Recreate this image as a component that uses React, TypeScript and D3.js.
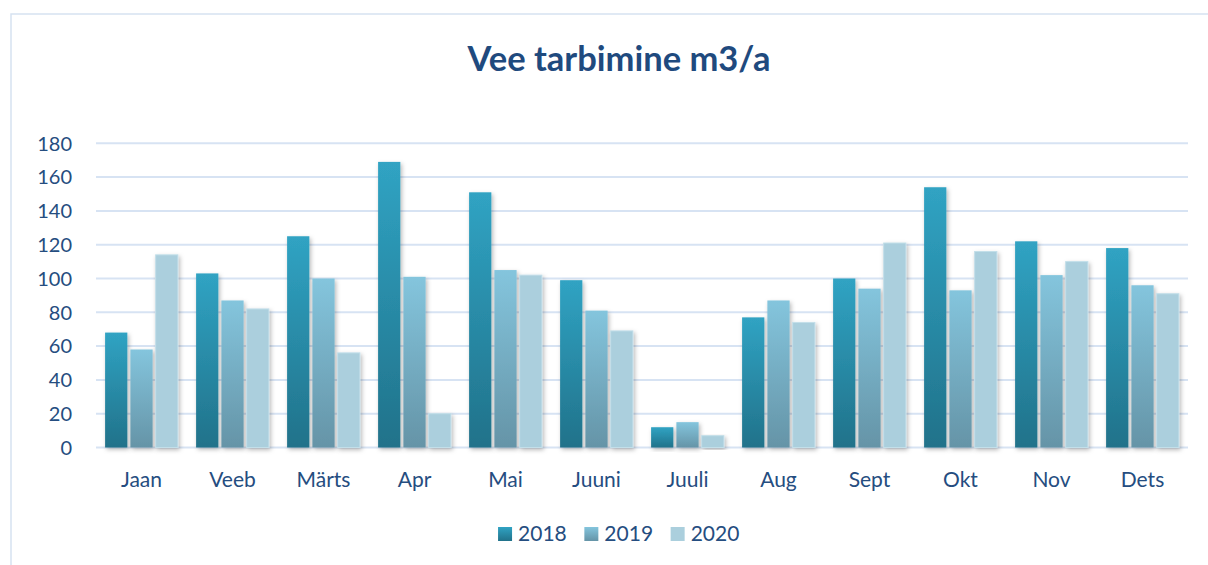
import React from 'react'
import * as d3 from 'd3'

const months = ['Jaan', 'Veeb', 'Märts', 'Apr', 'Mai', 'Juuni', 'Juuli', 'Aug', 'Sept', 'Okt', 'Nov', 'Dets']
const years = ['2018', '2019', '2020']
const values2018 = [68, 103, 125, 169, 151, 99, 12, 77, 100, 154, 122, 118]
const values2019 = [58, 87, 100, 101, 105, 81, 15, 87, 94, 93, 102, 96]
const values2020 = [114, 82, 56, 20, 102, 69, 7, 74, 121, 116, 110, 91]
const yTicks = [0, 20, 40, 60, 80, 100, 120, 140, 160, 180]

const seriesValues = [values2018, values2019, values2020]

const width = 1208
const height = 565
const left = 96
const right = 1188
const top = 143.3
const bottom = 447.5

const textColor = '#254d80'
const font = 'Lato, "Open Sans", sans-serif'

const App = () => {
  const x0 = d3.scaleBand().domain(months).range([left, right]).paddingInner(0.2).paddingOuter(0.1)
  const x1 = d3.scaleBand().domain(years).range([0, x0.bandwidth()]).paddingInner(0.12)
  const y = d3.scaleLinear().domain([0, 180]).range([bottom, top])

  const fills = ['url(#g2018)', 'url(#g2019)', '#abcfdd']

  // legend laid out from the middle
  const legendStep = 86.3
  const legendStart = 620 - (legendStep * years.length - 15) / 2

  return (
    <svg width={width} height={height} style={{ position: 'absolute', left: 0, top: 0, background: '#fff' }}>
      <defs>
        <linearGradient id="g2018" x1="0" y1="0" x2="0" y2="1">
          <stop offset="0%" stopColor="#30a3c3" />
          <stop offset="100%" stopColor="#21728a" />
        </linearGradient>
        <linearGradient id="g2019" x1="0" y1="0" x2="0" y2="1">
          <stop offset="0%" stopColor="#84c5dd" />
          <stop offset="100%" stopColor="#6594a7" />
        </linearGradient>
        <filter id="shadow" x="-30%" y="-10%" width="160%" height="130%">
          <feDropShadow dx="1.5" dy="2" stdDeviation="2" floodColor="#000" floodOpacity="0.28" />
        </filter>
      </defs>

      {/* chart area border */}
      <rect x={11} y={14} width={width + 20} height={height + 20} fill="none" stroke="#d6e2f1" strokeWidth={1.5} />

      <text x={619} y={71} textAnchor="middle" fill="#1f4a7e" fontFamily={font} fontWeight="bold" fontSize={34.5}>
        Vee tarbimine m3/a
      </text>

      {yTicks.map(t => (
        <g key={t}>
          <line x1={left} x2={right} y1={y(t)} y2={y(t)} stroke="#d7e3f3" strokeWidth={2} />
          <text x={72} y={y(t)} dy="0.36em" textAnchor="end" fill={textColor} fontFamily={font} fontSize={20}>
            {t}
          </text>
        </g>
      ))}

      {months.map((m, i) => (
        <g key={m} transform={`translate(${x0(m)},0)`}>
          {years.map((yr, j) => {
            const v = seriesValues[j][i]
            return (
              <rect key={yr}
                x={x1(yr)}
                y={y(v)}
                width={x1.bandwidth()}
                height={y(0) - y(v)}
                fill={fills[j]}
                stroke={j === 2 ? '#c3dfe9' : 'none'}
                strokeWidth={1}
                filter="url(#shadow)" />
            )
          })}
        </g>
      ))}

      {months.map(m => (
        <text key={m} x={(x0(m) || 0) + x0.bandwidth() / 2} y={486.5} textAnchor="middle"
          fill={textColor} fontFamily={font} fontSize={21}>
          {m}
        </text>
      ))}

      {years.map((yr, j) => (
        <g key={yr} transform={`translate(${legendStart + j * legendStep},0)`}>
          <rect x={0} y={527} width={14} height={14} fill={fills[j]} />
          <text x={20} y={541} fill={textColor} fontFamily={font} fontSize={21}>{yr}</text>
        </g>
      ))}
    </svg>
  )
}

export default App
